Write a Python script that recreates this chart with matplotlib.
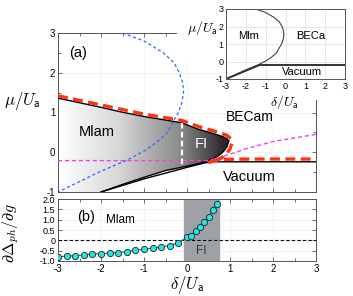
import numpy as np
import matplotlib
matplotlib.use("Agg")
from matplotlib import pyplot as plt
from matplotlib.colors import LinearSegmentedColormap
from matplotlib.patches import Polygon, Rectangle
from matplotlib.ticker import MultipleLocator

plt.rcParams['font.family'] = ['Liberation Sans', 'DejaVu Sans']
plt.rcParams['mathtext.fontset'] = 'cm'
plt.rcParams['axes.unicode_minus'] = False

# ---- data ----
# upper boundary of the Mlam / FI region (x, y), ends at the FI nose
up_x = [-3.0, -2.0, -1.56, -1.0, -0.5, -0.12, 0.26, 0.55, 0.73, 0.86, 0.93, 0.97]
up_y = [1.36, 1.13, 1.02, 0.90, 0.81, 0.74, 0.58, 0.49, 0.43, 0.38, 0.34, 0.28]
# lower boundary, from the nose back to the bottom
lo_x = [0.97, 0.93, 0.85, 0.75, 0.65, 0.5, 0.3, 0.0, -0.5, -1.0, -1.5, -2.0]
lo_y = [0.28, 0.14, 0.02, -0.07, -0.14, -0.21, -0.28, -0.35, -0.46, -0.63, -0.81, -1.0]
# vacuum boundary
vac_x = [-2.0, -1.0, 0.0, 0.4, 0.6, 3.0]
vac_y = [-1.0, -0.67, -0.38, -0.27, -0.24, -0.24]
# red dashed (photon phase boundary)
red_x = [-3.0, -2.0, -1.0, -0.12, 0.26, 0.73, 0.92, 1.02, 1.04, 1.0, 0.9, 0.78, 0.62, 0.52, 0.75, 1.5, 3.0]
red_y = [1.42, 1.19, 0.96, 0.80, 0.65, 0.50, 0.43, 0.34, 0.22, 0.08, -0.06, -0.16, -0.23, -0.25, -0.18, -0.17, -0.17]
# atomic Mott boundary (blue dashed in (a), black in the inset)
mi_x = [-1.5, -1.0, -0.55, -0.3, -0.18, -0.1, -0.08, -0.12, -0.2, -0.32, -0.45, -0.7, -1.0, -1.4, -2.05, -2.5, -3.0]
mi_y = [3.0, 2.8, 2.5, 2.25, 2.0, 1.75, 1.5, 1.25, 1.0, 0.77, 0.5, 0.25, 0.03, -0.2, -0.5, -0.74, -1.0]
# magenta dashed
mag_x = [-3.0, 0.5, 1.0, 1.35, 2.0, 3.0]
mag_y = [-0.21, -0.21, -0.05, 0.08, 0.27, 0.45]
# white dashed
wd_x = [-0.12, -0.12]
wd_y = [0.74, -0.37]
# inset vacuum line and wedge
ivac_x = [-1.35, 3.0]
ivac_y = [-0.2, -0.2]
iwedge_x = [-3.0, -1.35]
iwedge_y = [-1.0, -0.22]

# panel (b)
b_x = [-3.0, -2.8, -2.6, -2.4, -2.2, -2.0, -1.8, -1.6, -1.4, -1.2, -1.0, -0.8, -0.6,
       -0.4, -0.2, 0.0, 0.1, 0.2, 0.3, 0.4, 0.5, 0.6, 0.7]
b_y = [-0.80, -0.76, -0.75, -0.70, -0.67, -0.64, -0.62, -0.59, -0.55, -0.48, -0.42, -0.38, -0.33,
       -0.25, -0.11, 0.14, 0.23, 0.44, 0.65, 0.89, 1.15, 1.45, 1.76]
fi_lo, fi_hi = -0.08, 0.75
b_yticks = [-1.0, -0.5, 0, 0.5, 1.0, 1.5, 2.0]
b_yticklabels = ['-1.0', '-0.5', '0', '0.5', '1.0', '1.5', '2.0']

W, H = 353, 296
fig = plt.figure(figsize=(W / 100, H / 100), dpi=100)

def px(l, t, r, b):
    return [l / W, 1 - b / H, (r - l) / W, (b - t) / H]

def style(ax, ls=7):
    ax.tick_params(which='both', direction='in', top=True, right=True,
                   labelsize=ls, length=3, width=0.6, color='#555555', pad=2)
    ax.tick_params(which='minor', length=2)
    for s in ax.spines.values():
        s.set_linewidth(0.7)
        s.set_color('#555555')

# ---- panel (a) ----
ax = fig.add_axes(px(58, 33, 316, 192))
ax.set_xlim(-3, 3)
ax.set_ylim(-1, 3)
ax.grid(True, color='#eeeeee', lw=0.5)
ax.set_axisbelow(True)

cmap = LinearSegmentedColormap.from_list(
    'g', [(0, '#ffffff'), (0.35, '#d8d8d8'), (0.53, '#b0b0b0'), (0.72, '#888888'),
          (0.83, '#5e5c5e'), (0.95, '#322c32'), (1.0, '#241e24')])
grad = np.linspace(0, 1, 256).reshape(1, -1)
im = ax.imshow(grad, extent=[-3, 1.0, -1, 1.5], aspect='auto', cmap=cmap, zorder=1, origin='lower')
poly_pts = list(zip(up_x, up_y)) + list(zip(lo_x, lo_y)) + [(-3.0, -1.0)]
poly = Polygon(poly_pts, closed=True, transform=ax.transData, fc='none', ec='none')
ax.add_patch(poly)
im.set_clip_path(poly)

ax.plot(up_x, up_y, color='k', lw=1.0, zorder=3)
ax.plot(lo_x, lo_y, color='k', lw=1.0, zorder=3)
ax.plot(vac_x, vac_y, color='k', lw=1.0, zorder=3)
ax.plot(mi_x, mi_y, color='#3366ff', lw=0.9, dashes=(2.5, 2), zorder=4)
ax.plot(mag_x, mag_y, color='#ee44dd', lw=1.0, dashes=(3, 2), zorder=4)
ax.plot(wd_x, wd_y, color='white', lw=1.6, dashes=(2.5, 1.5), zorder=4)
ax.plot(red_x, red_y, color='#ff3311', lw=2.4, dashes=(3, 1.6), zorder=5)

ax.text(-2.75, 2.5, '(a)', fontsize=10.5, va='center')
ax.text(-2.1, 0.5, 'Mlam', fontsize=10.5, ha='center', va='center', zorder=6)
ax.text(1.46, 0.88, 'BECam', fontsize=10, ha='center', va='center', zorder=6)
ax.text(0.34, 0.22, 'FI', fontsize=10.5, ha='center', va='center', color='white', zorder=6)
ax.text(1.46, -0.63, 'Vacuum', fontsize=10.5, ha='center', va='center', zorder=6)

ax.xaxis.set_major_locator(MultipleLocator(1))
ax.xaxis.set_minor_locator(MultipleLocator(0.5))
ax.yaxis.set_major_locator(MultipleLocator(1))
ax.yaxis.set_minor_locator(MultipleLocator(0.5))
ax.set_xticklabels([])
style(ax)
ax.set_ylabel(r'$\mu/U_{\mathsf{a}}$', fontsize=12, rotation=0)
ax.yaxis.set_label_coords(-0.14, 0.5)

# ---- panel (b) ----
bx = fig.add_axes(px(58, 199, 316, 261))
bx.set_xlim(-3, 3)
bx.set_ylim(-1, 2)
bx.grid(True, color='#eeeeee', lw=0.5)
bx.set_axisbelow(True)
bx.axvspan(fi_lo, fi_hi, color='#9ea1a6', zorder=1)
bx.axhline(0, color='k', lw=0.8, dashes=(3, 2), zorder=2)
bx.plot(b_x, b_y, '-o', color='#555555', lw=0.8, ms=4.5, mfc='#22e5e5', mec='#222222', mew=0.6, zorder=3)
bx.text(-2.55, 1.15, '(b)', fontsize=10.5, va='center')
bx.text(-1.55, 1.0, 'Mlam', fontsize=8.5, ha='center', va='center')
bx.text(0.34, -0.5, 'FI', fontsize=8.5, ha='center', va='center', color='#333333')
bx.xaxis.set_major_locator(MultipleLocator(1))
bx.xaxis.set_minor_locator(MultipleLocator(0.5))
bx.set_yticks(b_yticks)
bx.set_yticklabels(b_yticklabels)
style(bx, ls=6.5)
bx.tick_params(axis='x', labelsize=7)
bx.set_xlabel(r'$\delta/U_{\mathsf{a}}$', fontsize=12, labelpad=0)
bx.set_ylabel(r'$\partial\Delta_{ph}/\partial g$', fontsize=11.5)
bx.yaxis.set_label_coords(-0.145, 0.45)

# ---- inset ----
fig.patches.append(Rectangle((177 / W, 1 - 62 / H), (W - 177) / W, 62 / H,
                             transform=fig.transFigure, fc='white', ec='none', zorder=1))
fig.patches.append(Rectangle((218 / W, 1 - 100 / H), (W - 218) / W, 100 / H,
                             transform=fig.transFigure, fc='white', ec='none', zorder=1))
ix = fig.add_axes(px(226, 9, 345, 79))
ix.set_zorder(2)
ix.set_xlim(-3, 3)
ix.set_ylim(-1, 3)
ix.grid(True, color='#dddddd', lw=0.5)
ix.set_axisbelow(True)
ix.plot(mi_x, mi_y, color='#444444', lw=0.8)
ix.plot(ivac_x, ivac_y, color='#333333', lw=1.4)
ix.plot(iwedge_x, iwedge_y, color='#333333', lw=1.4)
ix.text(-1.85, 1.46, 'Mlm', fontsize=8, ha='center', va='center')
ix.text(1.25, 1.46, 'BECa', fontsize=8, ha='center', va='center')
ix.text(0.82, -0.6, 'Vacuum', fontsize=8, ha='center', va='center')
ix.xaxis.set_major_locator(MultipleLocator(1))
ix.yaxis.set_major_locator(MultipleLocator(1))
style(ix, ls=6.5)
ix.tick_params(which='both', length=0)
ix.set_xlabel(r'$\delta/U_{\mathsf{a}}$', fontsize=10, labelpad=0)
ix.xaxis.set_label_coords(0.49, -0.2)
ix.set_ylabel(r'$\mu/U_{\mathsf{a}}$', fontsize=10, rotation=0)
ix.yaxis.set_label_coords(-0.2, 0.6)

fig.savefig('out.png', dpi=100)
